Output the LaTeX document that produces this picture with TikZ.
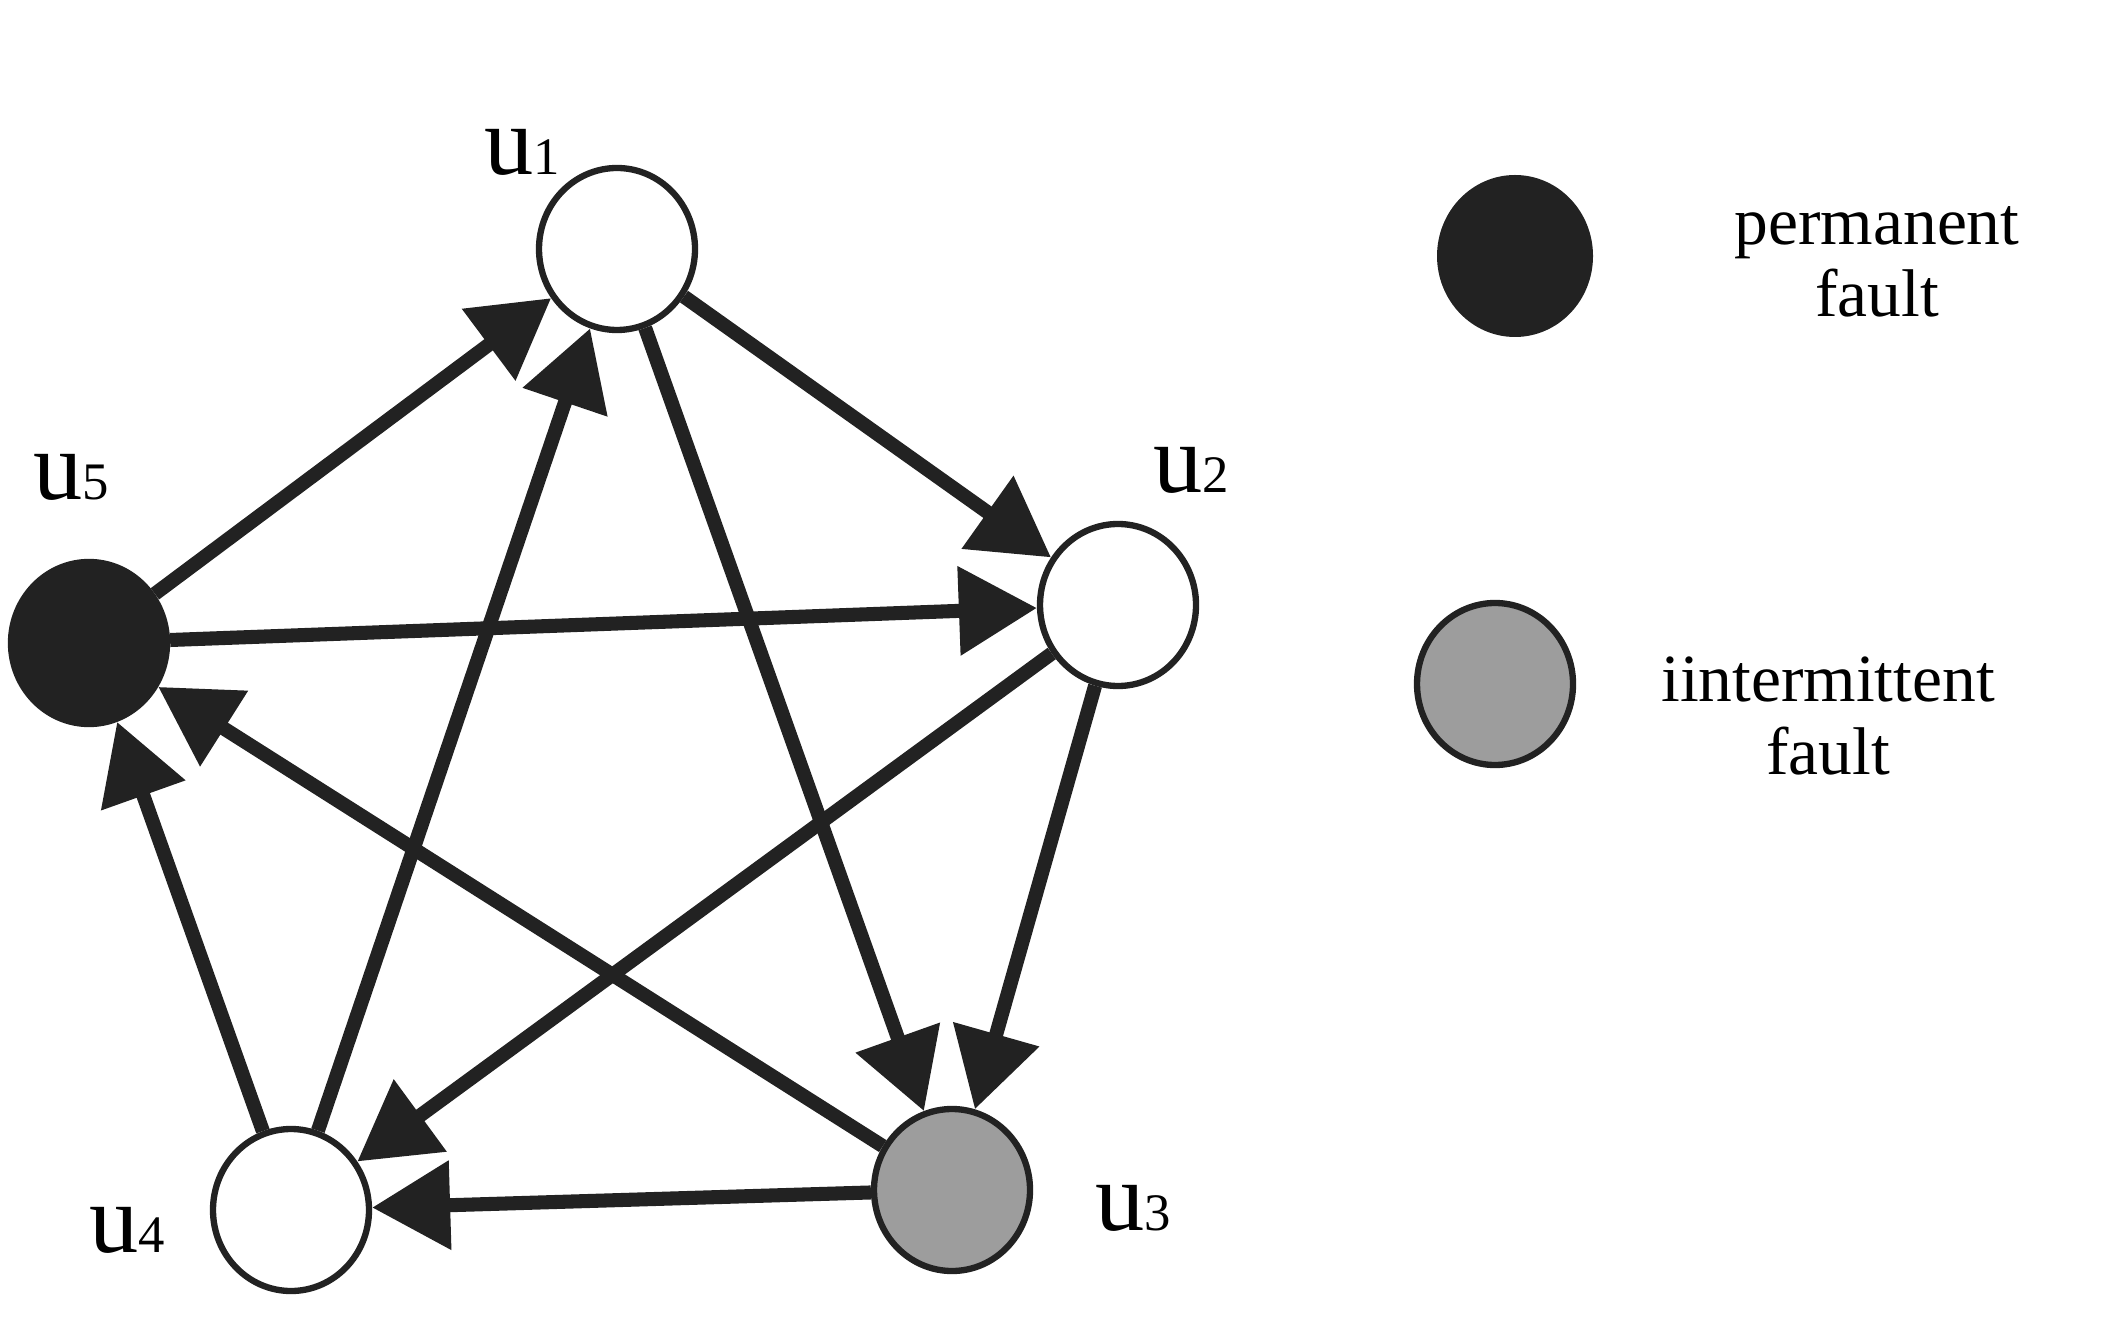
\documentclass[tikz,border=0pt]{standalone}
\usepackage{fontspec}
\setmainfont{Liberation Serif}
\usetikzlibrary{arrows.meta,shapes.geometric}

\definecolor{ink}{HTML}{222222}
\definecolor{midgray}{HTML}{9D9D9D}
\newcommand{\ulab}[1]{{\fontsize{28}{30}\selectfont u}{\fontsize{15}{16}\selectfont #1}}

\begin{document}
\begin{tikzpicture}[
		vertex/.style={ellipse, draw=ink, line width=1.8pt, minimum width=1.56cm, minimum height=1.62cm, inner sep=0pt},
		healthy/.style={vertex, fill=white},
		permfault/.style={vertex, fill=ink},
		intfault/.style={vertex, fill=midgray},
		arc/.style={draw=ink, line width=4pt, -{Triangle[length=7.8mm, width=8.6mm]}},
		legtext/.style={align=center, font=\fontsize{19.2}{20.5}\selectfont}
	]
			\useasboundingbox (0,0) rectangle (21.2,13.42);

			% the five units
			\node[healthy] (u1) at (6.17, 10.93) {};
			\node[healthy] (u2) at (11.18, 7.37) {};
			\node[intfault] (u3) at (9.52, 1.52) {};
			\node[healthy] (u4) at (2.91, 1.32) {};
			\node[permfault] (u5) at (0.89, 6.99) {};

			\node (lab1) at (5.22, 11.90) {\ulab{1}};
			\node (lab2) at (11.91, 8.72) {\ulab{2}};
			\node (lab3) at (11.33, 1.34) {\ulab{3}};
			\node (lab4) at (1.27, 1.12) {\ulab{4}};
			\node (lab5) at (0.71, 8.65) {\ulab{5}};

			% tests
			\draw [arc] (u5) to (u1);
			\draw [arc] (u4) to (u1);
			\draw [arc] (u1) to (u2);
			\draw [arc] (u1) to (u3);
			\draw [arc] (u5) to (u2);
			\draw [arc] (u2) to (u3);
			\draw [arc] (u2) to (u4);
			\draw [arc] (u3) to (u4);
			\draw [arc] (u3) to (u5);
			\draw [arc] (u4) to (u5);

			% legend
			\node[permfault, draw=none] (keyperm) at (15.15, 10.86) {};
			\node[intfault] (keyint) at (14.95, 6.58) {};
			\node[legtext] (permtext) at (18.77, 10.80) {permanent\\fault};
			\node[legtext] (inttext) at (18.28, 6.26) {iintermittent\\fault};
		\end{tikzpicture}
\end{document}
